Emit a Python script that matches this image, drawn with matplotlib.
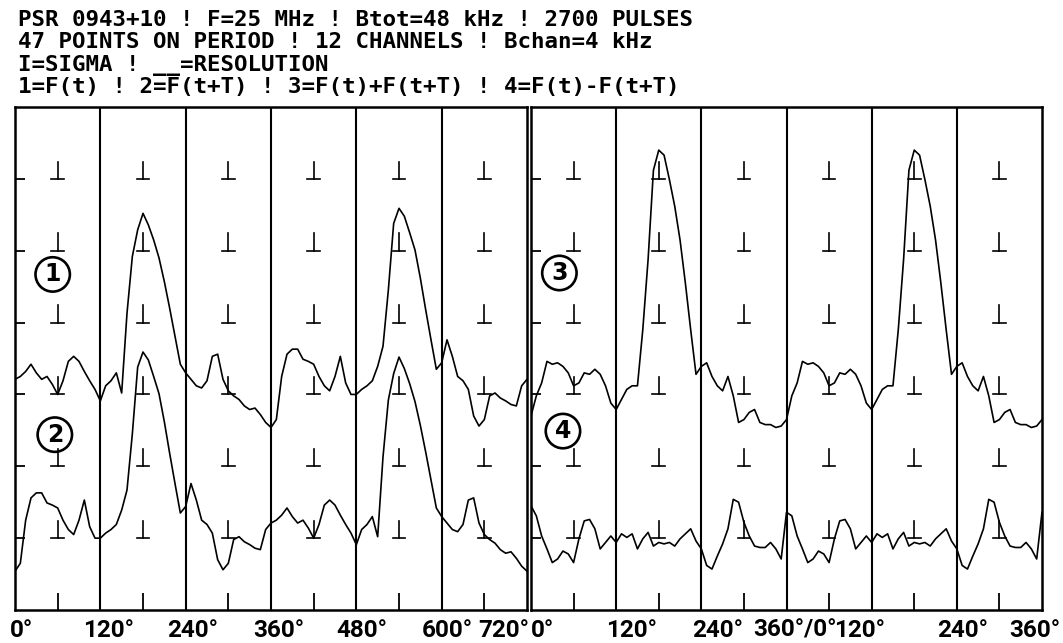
import numpy as np
import matplotlib
matplotlib.use('Agg')
import matplotlib.pyplot as plt
import matplotlib.transforms as mtransforms

# sample grid: one period, 7.5 deg step
phase = np.arange(0, 360.1, 7.5)

# F(t) over first period (0..360) and second period (360..720)
f_first = [3.21, 3.25, 3.32, 3.42, 3.30, 3.21, 3.25, 3.14, 3.00, 3.19,
           3.46, 3.53, 3.46, 3.32, 3.19, 3.07, 2.91, 3.12, 3.19, 3.30,
           3.02, 4.13, 4.92, 5.29, 5.52, 5.36, 5.15, 4.90, 4.57, 4.20,
           3.81, 3.42, 3.30, 3.21, 3.12, 3.09, 3.19, 3.53, 3.56, 3.21,
           3.05, 2.98, 2.93, 2.84, 2.79, 2.81, 2.72, 2.61, 2.54]
f_second = [2.54, 2.65, 3.25, 3.56, 3.63, 3.63, 3.49, 3.46, 3.42, 3.25,
            3.12, 3.05, 3.25, 3.53, 3.16, 3.00, 3.00, 3.07, 3.12, 3.19,
            3.39, 3.67, 4.45, 5.38, 5.59, 5.48, 5.25, 5.01, 4.62, 4.18,
            3.76, 3.35, 3.44, 3.76, 3.53, 3.25, 3.19, 3.07, 2.70, 2.56,
            2.65, 2.98, 3.02, 2.95, 2.91, 2.86, 2.84, 3.12, 3.21]
shift_2 = 2.0  # vertical offset of curve 2

# F(t)+F(t+T) and F(t)-F(t+T), one period
f_sum = [2.70, 2.98, 3.16, 3.46, 3.42, 3.44, 3.39, 3.30, 3.12, 3.16,
         3.30, 3.28, 3.35, 3.28, 3.12, 2.88, 2.79, 2.93, 3.07, 3.12,
         3.12, 3.90, 4.88, 6.12, 6.40, 6.33, 5.99, 5.62, 5.15, 4.55,
         3.90, 3.28, 3.39, 3.44, 3.25, 3.12, 3.05, 3.25, 2.98, 2.61,
         2.65, 2.75, 2.79, 2.61, 2.58, 2.58, 2.54, 2.56, 2.65]
f_diff = [1.45, 1.31, 1.03, 0.85, 0.66, 0.71, 0.82, 0.78, 0.66, 0.99,
          1.24, 1.26, 1.13, 0.85, 0.94, 1.03, 0.94, 1.06, 1.01, 1.06,
          0.85, 0.99, 1.08, 0.89, 0.94, 0.92, 0.94, 0.89, 0.99, 1.06,
          1.13, 0.96, 0.85, 0.62, 0.57, 0.75, 0.92, 1.13, 1.54, 1.50,
          1.22, 1.03, 0.89, 0.87, 0.87, 0.94, 0.85, 0.71, 1.36]

sigma_levels = [1, 2, 3, 4, 5, 6]
cell_centers = [60, 180, 300, 420, 540, 660]
dividers = [120, 240, 360, 480, 600]
label_pos = [0, 120, 240, 360, 480, 600, 720]
labels_left = ['0°', '120°', '240°', '360°', '480°', '600°', '720°']
labels_right = ['0°', '120°', '240°', '360°/0°', '120°', '240°', '360°']

header = ['PSR 0943+10 ! F=25 MHz ! Btot=48 kHz ! 2700 PULSES',
          '47 POINTS ON PERIOD ! 12 CHANNELS ! Bchan=4 kHz',
          'I=SIGMA ! __=RESOLUTION',
          '1=F(t) ! 2=F(t+T) ! 3=F(t)+F(t+T) ! 4=F(t)-F(t+T)']

W, H = 1063, 643
fig = plt.figure(figsize=(W / 100, H / 100), dpi=100)
fig.patch.set_facecolor('white')


def panel(x0, x1, y0, y1):
    ax = fig.add_axes([x0 / W, 1 - y1 / H, (x1 - x0) / W, (y1 - y0) / H])
    ax.set_xlim(0, 720)
    ax.set_ylim(0, 7)
    for s in ax.spines.values():
        s.set_linewidth(1.8)
    for d in dividers:
        ax.axvline(d, color='k', lw=1.5)
    # sigma marks
    for xc in cell_centers:
        for lev in sigma_levels:
            ax.plot([xc, xc], [lev, lev + 0.24], color='k', lw=1.2)
            ax.plot([xc - 9, xc + 9], [lev, lev], color='k', lw=1.2)
    ax.set_xticks(cell_centers)
    ax.set_yticks(sigma_levels)
    ax.tick_params(axis='x', direction='in', length=12, width=1.3,
                   labelbottom=False)
    ax.tick_params(axis='y', direction='in', length=7, width=1.3,
                   labelleft=False)
    return ax


axL = panel(15, 527, 107, 610)
axR = panel(531, 1042, 107, 610)

# left panel: F(t) and F(t+T) over 0..720
x_two = np.concatenate([phase, phase[1:] + 360])
curve1 = np.concatenate([f_first, f_second[1:]])
curve2 = np.concatenate([f_second, f_first[1:]]) - shift_2
axL.plot(x_two, curve1, color='k', lw=1.2)
axL.plot(x_two, curve2, color='k', lw=1.2)

# right panel: sum and difference, period drawn twice
axR.plot(x_two, np.concatenate([f_sum, f_sum[1:]]), color='k', lw=1.2)
axR.plot(x_two, np.concatenate([f_diff, f_diff[1:]]), color='k', lw=1.2)

circ = dict(boxstyle='circle,pad=0.22', fc='none', ec='k', lw=1.9)
for ax, x, y, t in [(axL, 53, 4.67, '1'), (axL, 56, 2.44, '2'),
                    (axR, 40, 4.69, '3'), (axR, 45, 2.49, '4')]:
    ax.text(x, y, t, fontsize=17, weight='bold', ha='center', va='center',
            bbox=circ)

# degree labels under the panels (pixel nudges, alignment)
lab_font = dict(fontsize=17.5, weight='bold', va='center', family='Roboto')
lab_left_layout = [(-5, 'left'), (8, 'center'), (7, 'center'), (8, 'center'),
                   (6, 'center'), (6, 'center'), (2, 'right')]
lab_right_layout = [(0, 'left'), (15, 'center'), (16, 'center'), (9, 'center'),
                    (-12, 'center'), (6, 'center'), (18, 'right')]
for ax, labs, lay in [(axL, labels_left, lab_left_layout),
                      (axR, labels_right, lab_right_layout)]:
    tr = mtransforms.blended_transform_factory(ax.transData, ax.transAxes)
    for p, t, (dx, ha) in zip(label_pos, labs, lay):
        off = mtransforms.ScaledTranslation(dx / 100, 0, fig.dpi_scale_trans)
        ax.text(p, -0.04, t, transform=tr + off, ha=ha, clip_on=False,
                **lab_font)

for i, line in enumerate(header):
    fig.text(18 / W, 1 - (20 + 22.5 * i) / H, line, family='DejaVu Sans Mono',
             fontsize=16.2, weight='bold', va='center')

fig.savefig('out.png', dpi=100, facecolor='white')
